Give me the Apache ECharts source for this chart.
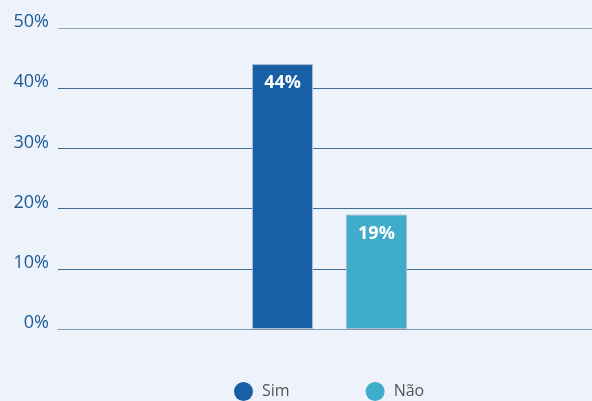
<!DOCTYPE html>
<html><head><meta charset="utf-8">
<script src="https://cdn.jsdelivr.net/npm/echarts@6/dist/echarts.min.js"></script>
<style>html,body{margin:0;padding:0;background:#eef3fb;}#c{width:592px;height:401px;}</style>
</head><body><div id="c"></div>
<script>
const categories = [''];
const seriesNames = ['Sim', 'Não'];
const simValues = [44];
const naoValues = [19];
const yTicks = [0, 10, 20, 30, 40, 50];

const chart = echarts.init(document.getElementById('c'));
const font = '"Open Sans", "Noto Sans", sans-serif';
const yMin = yTicks[0], yMax = yTicks[yTicks.length - 1];
const label = {show: true, position: 'insideTop', distance: 10, color: '#ffffff', fontWeight: 'bold', fontSize: 18, fontFamily: font, formatter: p => p.value + '%'};
chart.setOption({
  backgroundColor: '#eef3fb',
  animation: false,
  grid: [
    {left: 58, right: 0, top: 28, bottom: 72},
    {left: 67, right: 0, top: 28, bottom: 72}
  ],
  legend: {bottom: 0, left: 234, padding: 0, itemGap: 76, icon: 'circle', itemWidth: 19, itemHeight: 19,
    itemStyle: {borderWidth: 0},
    textStyle: {color: '#555555', fontSize: 16, fontFamily: font, padding: [0, 0, 0, 4]}, data: seriesNames},
  xAxis: [
    {gridIndex: 0, type: 'category', data: categories, axisLine: {show: false}, axisTick: {show: false}, axisLabel: {show: false}},
    {gridIndex: 1, type: 'category', data: categories, axisLine: {show: false}, axisTick: {show: false}, axisLabel: {show: false}}
  ],
  yAxis: [
    {gridIndex: 0, type: 'value', min: yMin, max: yMax, interval: 10,
     axisLine: {show: false}, axisTick: {show: false},
     axisLabel: {formatter: '{value}%', color: '#1d5a94', fontSize: 18, fontFamily: font, margin: 9, verticalAlign: 'bottom', lineHeight: 12},
     splitLine: {lineStyle: {color: ['#7f98b0', '#3e6d99', '#3e6d99', '#3e6d99', '#3e6d99', '#8ea4b8'], width: 1}}},
    {gridIndex: 1, type: 'value', min: yMin, max: yMax, interval: 10, show: false, splitLine: {show: false}}
  ],
  series: [
    {name: seriesNames[0], type: 'bar', xAxisIndex: 1, yAxisIndex: 1, data: simValues, barWidth: 61, barGap: '54%',
     itemStyle: {color: '#185fa5', borderColor: '#a9bdd3', borderWidth: 1}, label: label},
    {name: seriesNames[1], type: 'bar', xAxisIndex: 1, yAxisIndex: 1, data: naoValues, barWidth: 61,
     itemStyle: {color: '#3eacca', borderColor: '#a9bdd3', borderWidth: 1}, label: label}
  ]
});
</script></body></html>
